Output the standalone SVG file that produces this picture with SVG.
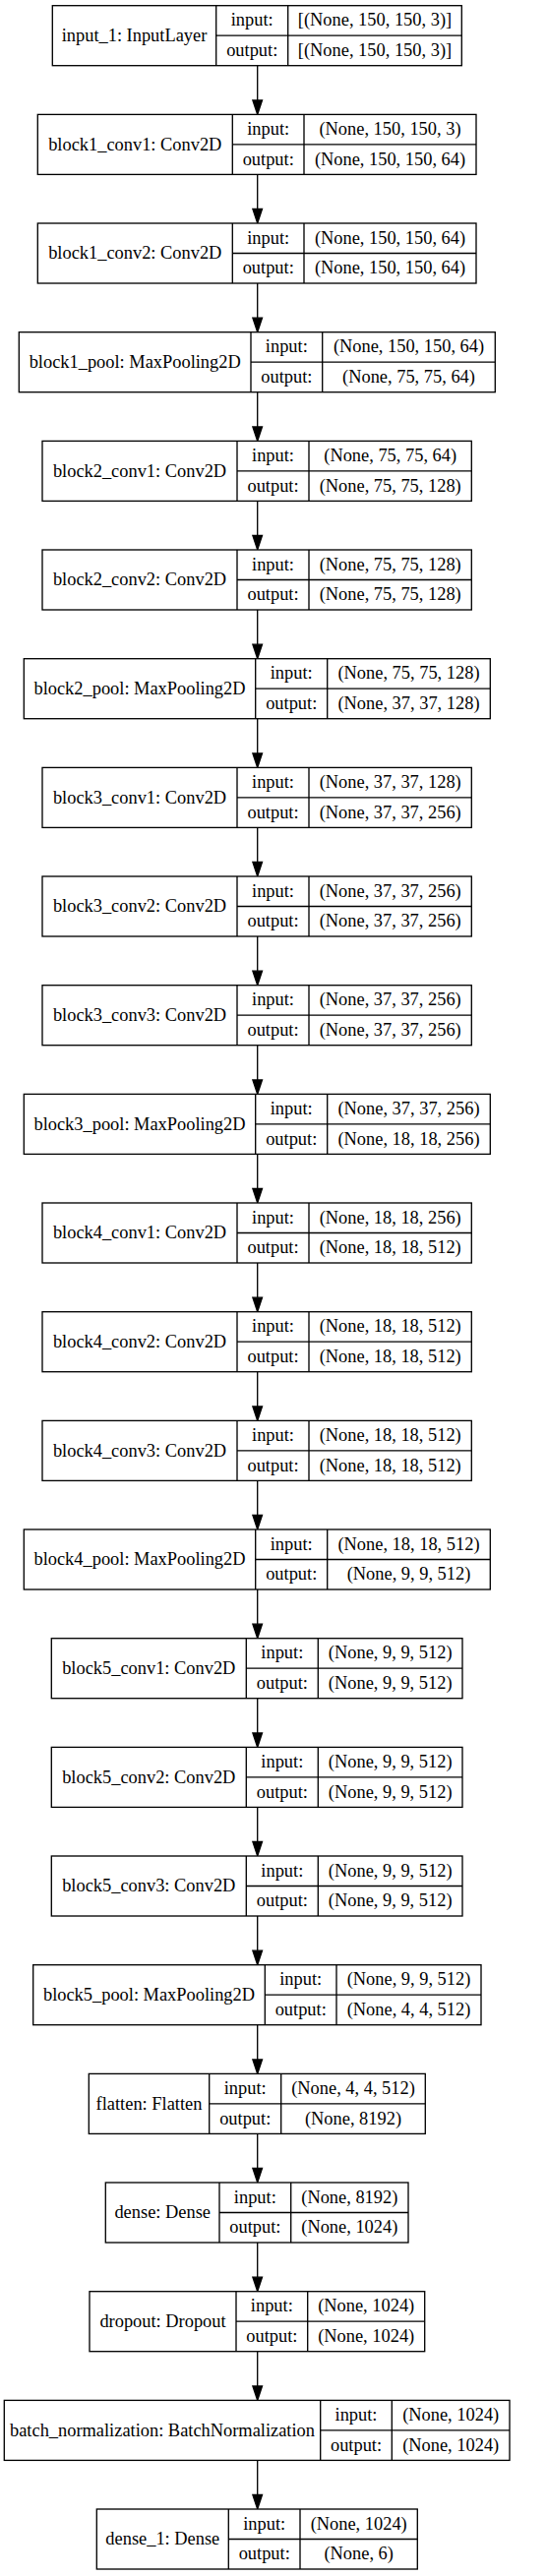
<svg xmlns="http://www.w3.org/2000/svg" width="556" height="2619" viewBox="0 0 556 2619">
<style>
.b{fill:#fff;stroke:#000;stroke-width:1.33}
.s{stroke:#000;stroke-width:1.33;fill:none}
text{font-family:"Liberation Serif","Times New Roman",serif;font-size:18.4px;fill:#000;text-anchor:middle}
.e{stroke:#000;stroke-width:1.33;fill:none}
.a{fill:#000;stroke:#000;stroke-width:1.33}
</style>
<rect x="0" y="0" width="556" height="2619" fill="#fff"/>
<g id="connectors">
<line class="e" x1="261.7" y1="66.7" x2="261.7" y2="101.9"/><polygon class="a" points="256.9,101.9 266.5,101.9 261.7,116.4"/>
<line class="e" x1="261.7" y1="177.4" x2="261.7" y2="212.5"/><polygon class="a" points="256.9,212.5 266.5,212.5 261.7,227.0"/>
<line class="e" x1="261.7" y1="288.0" x2="261.7" y2="323.2"/><polygon class="a" points="256.9,323.2 266.5,323.2 261.7,337.7"/>
<line class="e" x1="261.7" y1="398.7" x2="261.7" y2="433.9"/><polygon class="a" points="256.9,433.9 266.5,433.9 261.7,448.4"/>
<line class="e" x1="261.7" y1="509.4" x2="261.7" y2="544.5"/><polygon class="a" points="256.9,544.5 266.5,544.5 261.7,559.0"/>
<line class="e" x1="261.7" y1="620.0" x2="261.7" y2="655.2"/><polygon class="a" points="256.9,655.2 266.5,655.2 261.7,669.7"/>
<line class="e" x1="261.7" y1="730.7" x2="261.7" y2="765.9"/><polygon class="a" points="256.9,765.9 266.5,765.9 261.7,780.4"/>
<line class="e" x1="261.7" y1="841.4" x2="261.7" y2="876.5"/><polygon class="a" points="256.9,876.5 266.5,876.5 261.7,891.0"/>
<line class="e" x1="261.7" y1="952.0" x2="261.7" y2="987.2"/><polygon class="a" points="256.9,987.2 266.5,987.2 261.7,1001.7"/>
<line class="e" x1="261.7" y1="1062.7" x2="261.7" y2="1097.9"/><polygon class="a" points="256.9,1097.9 266.5,1097.9 261.7,1112.4"/>
<line class="e" x1="261.7" y1="1173.4" x2="261.7" y2="1208.5"/><polygon class="a" points="256.9,1208.5 266.5,1208.5 261.7,1223.0"/>
<line class="e" x1="261.7" y1="1284.0" x2="261.7" y2="1319.2"/><polygon class="a" points="256.9,1319.2 266.5,1319.2 261.7,1333.7"/>
<line class="e" x1="261.7" y1="1394.7" x2="261.7" y2="1429.9"/><polygon class="a" points="256.9,1429.9 266.5,1429.9 261.7,1444.4"/>
<line class="e" x1="261.7" y1="1505.4" x2="261.7" y2="1540.5"/><polygon class="a" points="256.9,1540.5 266.5,1540.5 261.7,1555.0"/>
<line class="e" x1="261.7" y1="1616.0" x2="261.7" y2="1651.2"/><polygon class="a" points="256.9,1651.2 266.5,1651.2 261.7,1665.7"/>
<line class="e" x1="261.7" y1="1726.7" x2="261.7" y2="1761.9"/><polygon class="a" points="256.9,1761.9 266.5,1761.9 261.7,1776.4"/>
<line class="e" x1="261.7" y1="1837.4" x2="261.7" y2="1872.5"/><polygon class="a" points="256.9,1872.5 266.5,1872.5 261.7,1887.0"/>
<line class="e" x1="261.7" y1="1948.0" x2="261.7" y2="1983.2"/><polygon class="a" points="256.9,1983.2 266.5,1983.2 261.7,1997.7"/>
<line class="e" x1="261.7" y1="2058.7" x2="261.7" y2="2093.9"/><polygon class="a" points="256.9,2093.9 266.5,2093.9 261.7,2108.4"/>
<line class="e" x1="261.7" y1="2169.4" x2="261.7" y2="2204.5"/><polygon class="a" points="256.9,2204.5 266.5,2204.5 261.7,2219.0"/>
<line class="e" x1="261.7" y1="2280.0" x2="261.7" y2="2315.2"/><polygon class="a" points="256.9,2315.2 266.5,2315.2 261.7,2329.7"/>
<line class="e" x1="261.7" y1="2390.7" x2="261.7" y2="2425.9"/><polygon class="a" points="256.9,2425.9 266.5,2425.9 261.7,2440.4"/>
<line class="e" x1="261.7" y1="2501.4" x2="261.7" y2="2536.5"/><polygon class="a" points="256.9,2536.5 266.5,2536.5 261.7,2551.0"/>
</g>

<g id="input_1" transform="translate(0,5.7)">
<rect class="b" x="53.3" y="0" width="416" height="61"/>
<path class="s" d="M219.7,0V61M292.7,0V61M219.7,30.5H469.3"/>
<text x="136.5" y="36.3">input_1: InputLayer</text>
<text x="256.2" y="20.7">input:</text><text x="256.2" y="51.2">output:</text>
<text x="381" y="20.7">[(None, 150, 150, 3)]</text><text x="381" y="51.2">[(None, 150, 150, 3)]</text>
</g>

<g id="block1_conv1" transform="translate(0,116.4)">
<rect class="b" x="38.3" y="0" width="445.7" height="61"/>
<path class="s" d="M236.3,0V61M309,0V61M236.3,30.5H484"/>
<text x="137.3" y="36.3">block1_conv1: Conv2D</text>
<text x="272.7" y="20.7">input:</text><text x="272.7" y="51.2">output:</text>
<text x="396.5" y="20.7">(None, 150, 150, 3)</text><text x="396.5" y="51.2">(None, 150, 150, 64)</text>
</g>

<g id="block1_conv2" transform="translate(0,227)">
<rect class="b" x="38.3" y="0" width="445.7" height="61"/>
<path class="s" d="M236.3,0V61M309,0V61M236.3,30.5H484"/>
<text x="137.3" y="36.3">block1_conv2: Conv2D</text>
<text x="272.7" y="20.7">input:</text><text x="272.7" y="51.2">output:</text>
<text x="396.5" y="20.7">(None, 150, 150, 64)</text><text x="396.5" y="51.2">(None, 150, 150, 64)</text>
</g>

<g id="block1_pool" transform="translate(0,337.7)">
<rect class="b" x="19.3" y="0" width="484" height="61"/>
<path class="s" d="M255,0V61M327.7,0V61M255,30.5H503.3"/>
<text x="137.2" y="36.3">block1_pool: MaxPooling2D</text>
<text x="291.3" y="20.7">input:</text><text x="291.3" y="51.2">output:</text>
<text x="415.5" y="20.7">(None, 150, 150, 64)</text><text x="415.5" y="51.2">(None, 75, 75, 64)</text>
</g>

<g id="block2_conv1" transform="translate(0,448.4)">
<rect class="b" x="43" y="0" width="436.3" height="61"/>
<path class="s" d="M241,0V61M314,0V61M241,30.5H479.3"/>
<text x="142" y="36.3">block2_conv1: Conv2D</text>
<text x="277.5" y="20.7">input:</text><text x="277.5" y="51.2">output:</text>
<text x="396.7" y="20.7">(None, 75, 75, 64)</text><text x="396.7" y="51.2">(None, 75, 75, 128)</text>
</g>

<g id="block2_conv2" transform="translate(0,559)">
<rect class="b" x="43" y="0" width="436.3" height="61"/>
<path class="s" d="M241,0V61M314,0V61M241,30.5H479.3"/>
<text x="142" y="36.3">block2_conv2: Conv2D</text>
<text x="277.5" y="20.7">input:</text><text x="277.5" y="51.2">output:</text>
<text x="396.7" y="20.7">(None, 75, 75, 128)</text><text x="396.7" y="51.2">(None, 75, 75, 128)</text>
</g>

<g id="block2_pool" transform="translate(0,669.7)">
<rect class="b" x="24.3" y="0" width="474" height="61"/>
<path class="s" d="M259.7,0V61M332.7,0V61M259.7,30.5H498.3"/>
<text x="142" y="36.3">block2_pool: MaxPooling2D</text>
<text x="296.2" y="20.7">input:</text><text x="296.2" y="51.2">output:</text>
<text x="415.5" y="20.7">(None, 75, 75, 128)</text><text x="415.5" y="51.2">(None, 37, 37, 128)</text>
</g>

<g id="block3_conv1" transform="translate(0,780.4)">
<rect class="b" x="43" y="0" width="436.3" height="61"/>
<path class="s" d="M241,0V61M314,0V61M241,30.5H479.3"/>
<text x="142" y="36.3">block3_conv1: Conv2D</text>
<text x="277.5" y="20.7">input:</text><text x="277.5" y="51.2">output:</text>
<text x="396.7" y="20.7">(None, 37, 37, 128)</text><text x="396.7" y="51.2">(None, 37, 37, 256)</text>
</g>

<g id="block3_conv2" transform="translate(0,891)">
<rect class="b" x="43" y="0" width="436.3" height="61"/>
<path class="s" d="M241,0V61M314,0V61M241,30.5H479.3"/>
<text x="142" y="36.3">block3_conv2: Conv2D</text>
<text x="277.5" y="20.7">input:</text><text x="277.5" y="51.2">output:</text>
<text x="396.7" y="20.7">(None, 37, 37, 256)</text><text x="396.7" y="51.2">(None, 37, 37, 256)</text>
</g>

<g id="block3_conv3" transform="translate(0,1001.7)">
<rect class="b" x="43" y="0" width="436.3" height="61"/>
<path class="s" d="M241,0V61M314,0V61M241,30.5H479.3"/>
<text x="142" y="36.3">block3_conv3: Conv2D</text>
<text x="277.5" y="20.7">input:</text><text x="277.5" y="51.2">output:</text>
<text x="396.7" y="20.7">(None, 37, 37, 256)</text><text x="396.7" y="51.2">(None, 37, 37, 256)</text>
</g>

<g id="block3_pool" transform="translate(0,1112.4)">
<rect class="b" x="24.3" y="0" width="474" height="61"/>
<path class="s" d="M259.7,0V61M332.7,0V61M259.7,30.5H498.3"/>
<text x="142" y="36.3">block3_pool: MaxPooling2D</text>
<text x="296.2" y="20.7">input:</text><text x="296.2" y="51.2">output:</text>
<text x="415.5" y="20.7">(None, 37, 37, 256)</text><text x="415.5" y="51.2">(None, 18, 18, 256)</text>
</g>

<g id="block4_conv1" transform="translate(0,1223)">
<rect class="b" x="43" y="0" width="436.3" height="61"/>
<path class="s" d="M241,0V61M314,0V61M241,30.5H479.3"/>
<text x="142" y="36.3">block4_conv1: Conv2D</text>
<text x="277.5" y="20.7">input:</text><text x="277.5" y="51.2">output:</text>
<text x="396.7" y="20.7">(None, 18, 18, 256)</text><text x="396.7" y="51.2">(None, 18, 18, 512)</text>
</g>

<g id="block4_conv2" transform="translate(0,1333.7)">
<rect class="b" x="43" y="0" width="436.3" height="61"/>
<path class="s" d="M241,0V61M314,0V61M241,30.5H479.3"/>
<text x="142" y="36.3">block4_conv2: Conv2D</text>
<text x="277.5" y="20.7">input:</text><text x="277.5" y="51.2">output:</text>
<text x="396.7" y="20.7">(None, 18, 18, 512)</text><text x="396.7" y="51.2">(None, 18, 18, 512)</text>
</g>

<g id="block4_conv3" transform="translate(0,1444.4)">
<rect class="b" x="43" y="0" width="436.3" height="61"/>
<path class="s" d="M241,0V61M314,0V61M241,30.5H479.3"/>
<text x="142" y="36.3">block4_conv3: Conv2D</text>
<text x="277.5" y="20.7">input:</text><text x="277.5" y="51.2">output:</text>
<text x="396.7" y="20.7">(None, 18, 18, 512)</text><text x="396.7" y="51.2">(None, 18, 18, 512)</text>
</g>

<g id="block4_pool" transform="translate(0,1555)">
<rect class="b" x="24.3" y="0" width="474" height="61"/>
<path class="s" d="M259.7,0V61M332.7,0V61M259.7,30.5H498.3"/>
<text x="142" y="36.3">block4_pool: MaxPooling2D</text>
<text x="296.2" y="20.7">input:</text><text x="296.2" y="51.2">output:</text>
<text x="415.5" y="20.7">(None, 18, 18, 512)</text><text x="415.5" y="51.2">(None, 9, 9, 512)</text>
</g>

<g id="block5_conv1" transform="translate(0,1665.7)">
<rect class="b" x="52.3" y="0" width="417.7" height="61"/>
<path class="s" d="M250.3,0V61M323.3,0V61M250.3,30.5H470"/>
<text x="151.3" y="36.3">block5_conv1: Conv2D</text>
<text x="286.8" y="20.7">input:</text><text x="286.8" y="51.2">output:</text>
<text x="396.7" y="20.7">(None, 9, 9, 512)</text><text x="396.7" y="51.2">(None, 9, 9, 512)</text>
</g>

<g id="block5_conv2" transform="translate(0,1776.4)">
<rect class="b" x="52.3" y="0" width="417.7" height="61"/>
<path class="s" d="M250.3,0V61M323.3,0V61M250.3,30.5H470"/>
<text x="151.3" y="36.3">block5_conv2: Conv2D</text>
<text x="286.8" y="20.7">input:</text><text x="286.8" y="51.2">output:</text>
<text x="396.7" y="20.7">(None, 9, 9, 512)</text><text x="396.7" y="51.2">(None, 9, 9, 512)</text>
</g>

<g id="block5_conv3" transform="translate(0,1887)">
<rect class="b" x="52.3" y="0" width="417.7" height="61"/>
<path class="s" d="M250.3,0V61M323.3,0V61M250.3,30.5H470"/>
<text x="151.3" y="36.3">block5_conv3: Conv2D</text>
<text x="286.8" y="20.7">input:</text><text x="286.8" y="51.2">output:</text>
<text x="396.7" y="20.7">(None, 9, 9, 512)</text><text x="396.7" y="51.2">(None, 9, 9, 512)</text>
</g>

<g id="block5_pool" transform="translate(0,1997.7)">
<rect class="b" x="33.7" y="0" width="455.3" height="61"/>
<path class="s" d="M269.3,0V61M342,0V61M269.3,30.5H489"/>
<text x="151.5" y="36.3">block5_pool: MaxPooling2D</text>
<text x="305.7" y="20.7">input:</text><text x="305.7" y="51.2">output:</text>
<text x="415.5" y="20.7">(None, 9, 9, 512)</text><text x="415.5" y="51.2">(None, 4, 4, 512)</text>
</g>

<g id="flatten" transform="translate(0,2108.4)">
<rect class="b" x="90.3" y="0" width="342" height="61"/>
<path class="s" d="M212.7,0V61M285.7,0V61M212.7,30.5H432.3"/>
<text x="151.5" y="36.3">flatten: Flatten</text>
<text x="249.2" y="20.7">input:</text><text x="249.2" y="51.2">output:</text>
<text x="359" y="20.7">(None, 4, 4, 512)</text><text x="359" y="51.2">(None, 8192)</text>
</g>

<g id="dense" transform="translate(0,2219)">
<rect class="b" x="107.3" y="0" width="307.7" height="61"/>
<path class="s" d="M223,0V61M295.7,0V61M223,30.5H415"/>
<text x="165.2" y="36.3">dense: Dense</text>
<text x="259.3" y="20.7">input:</text><text x="259.3" y="51.2">output:</text>
<text x="355.3" y="20.7">(None, 8192)</text><text x="355.3" y="51.2">(None, 1024)</text>
</g>

<g id="dropout" transform="translate(0,2329.7)">
<rect class="b" x="91" y="0" width="340.7" height="61"/>
<path class="s" d="M240,0V61M312.7,0V61M240,30.5H431.7"/>
<text x="165.5" y="36.3">dropout: Dropout</text>
<text x="276.3" y="20.7">input:</text><text x="276.3" y="51.2">output:</text>
<text x="372.2" y="20.7">(None, 1024)</text><text x="372.2" y="51.2">(None, 1024)</text>
</g>

<g id="batch_normalization" transform="translate(0,2440.4)">
<rect class="b" x="4.3" y="0" width="513.7" height="61"/>
<path class="s" d="M325.7,0V61M398.3,0V61M325.7,30.5H518"/>
<text x="165" y="36.3">batch_normalization: BatchNormalization</text>
<text x="362" y="20.7">input:</text><text x="362" y="51.2">output:</text>
<text x="458.2" y="20.7">(None, 1024)</text><text x="458.2" y="51.2">(None, 1024)</text>
</g>

<g id="dense_1" transform="translate(0,2551)">
<rect class="b" x="98.3" y="0" width="326" height="61"/>
<path class="s" d="M232.3,0V61M305,0V61M232.3,30.5H424.3"/>
<text x="165.3" y="36.3">dense_1: Dense</text>
<text x="268.7" y="20.7">input:</text><text x="268.7" y="51.2">output:</text>
<text x="364.7" y="20.7">(None, 1024)</text><text x="364.7" y="51.2">(None, 6)</text>
</g>
</svg>
